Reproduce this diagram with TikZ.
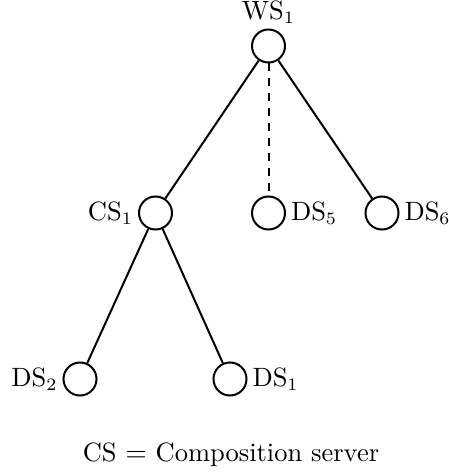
\documentclass[tikz,border=0pt]{standalone}
\usepackage{amsmath,amssymb}
\usepackage{tikz}

\tikzset{
  server/.style={circle, draw, line width=0.8pt, minimum size=13.2pt, inner sep=0pt},
  link/.style={line width=0.8pt},
  every label/.style={inner sep=1.8pt}
}

\begin{document}
\begin{tikzpicture}[x=1pt,y=1pt,font=\fontsize{10.6}{12.7}\selectfont]
  % Frame
  \useasboundingbox (0,0) rectangle (179.2,-189.6);

  % Web service
  \node[server, label=above:{WS$_1$}] (ws1) at (107.4,-18.4) {};

  % Second level
  \node[server, label=left:{CS$_1$}] (cs1) at (62.2,-85.2) {};
  \node[server, label=right:{DS$_5$}] (ds5) at (107.4,-85.2) {};
  \node[server, label=right:{DS$_6$}] (ds6) at (152.8,-85.2) {};

  % Third level
  \node[server, label=left:{DS$_2$}] (ds2) at (32,-151.6) {};
  \node[server, label=right:{DS$_1$}] (ds1) at (92,-151.6) {};

  % Links
  \draw[link] (ws1) -- (cs1);
  \draw[link, dashed] (ws1) -- (ds5);
  \draw[link] (ws1) -- (ds6);
  \draw[link] (cs1) -- (ds2);
  \draw[link] (cs1) -- (ds1);

  % Legend
  \node (legend) at (92.4,-182) {CS $=$ Composition server};
\end{tikzpicture}
\end{document}
